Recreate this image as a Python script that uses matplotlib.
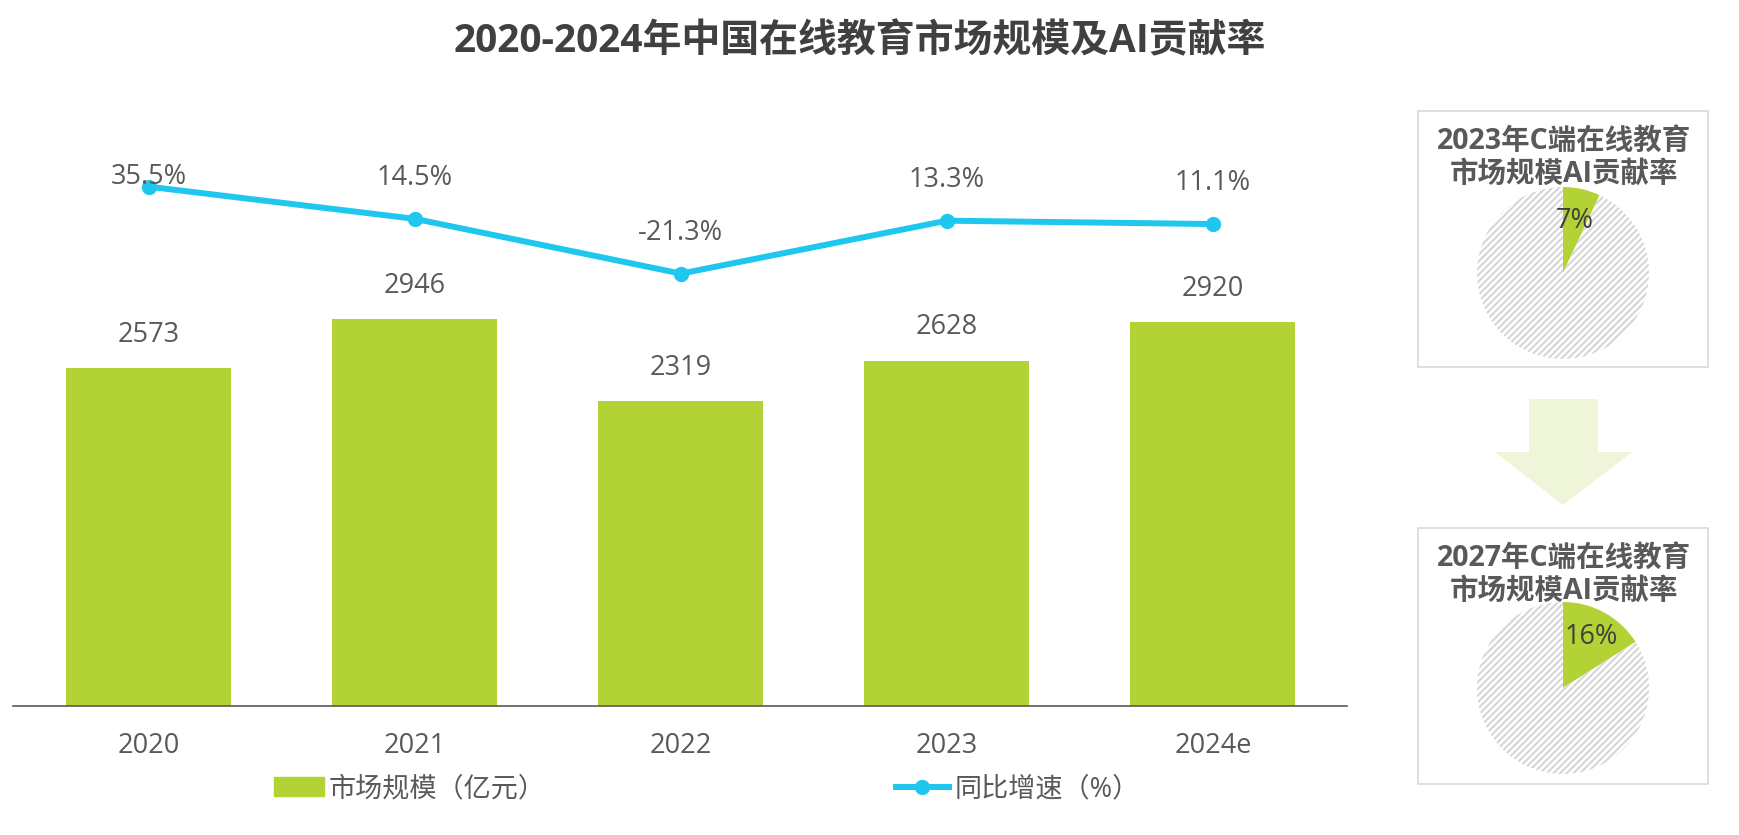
import matplotlib
matplotlib.use('Agg')
import matplotlib.pyplot as plt
from matplotlib.patches import Rectangle, Polygon, Patch
from matplotlib.lines import Line2D

plt.rcParams['font.family'] = ['Open Sans', 'Noto Sans CJK SC', 'DejaVu Sans']
plt.rcParams['hatch.linewidth'] = 1.5

# dados
anos = ['2020', '2021', '2022', '2023', '2024e']
mercado = [2573, 2946, 2319, 2628, 2920]
crescimento = [35.5, 14.5, -21.3, 13.3, 11.1]
pie_titulos = ['2023年C端在线教育\n市场规模AI贡献率', '2027年C端在线教育\n市场规模AI贡献率']
pie_ai = [7, 16]

verde = '#B2D235'
azul = '#1FC7EF'
cinza = '#595959'
fs = 19.5

W, H = 1739, 835
fig = plt.figure(figsize=(W / 100, H / 100), dpi=100)


def fx(px):
    return px / W


def fy(py):
    return 1 - py / H


# grafico principal
ax = fig.add_axes([fx(13), fy(706), fx(1347) - fx(13), fy(100) - fy(706)])
x = list(range(len(anos)))
ax.bar(x, mercado, width=0.62, color=verde, label='市场规模（亿元）')
ax.set_xlim(-0.511, 4.504)
ax.set_ylim(0, 4612)
for s in ['top', 'right', 'left']:
    ax.spines[s].set_visible(False)
ax.spines['bottom'].set_color('#595959')
ax.spines['bottom'].set_linewidth(1.2)
ax.set_yticks([])
ax.set_xticks(x, anos)
ax.tick_params(axis='x', length=0, pad=19, labelsize=fs, labelcolor=cinza)
for i, v in enumerate(mercado):
    ax.annotate(str(v), (i, v), xytext=(0, 24), textcoords='offset points',
                ha='center', va='center', fontsize=fs, color=cinza)

ax2 = ax.twinx()
ax2.plot(x, crescimento, color=azul, lw=4.3, marker='o', ms=10, label='同比增速（%）')
ax2.set_ylim(-304, 92.2)
ax2.set_yticks([])
for s in ax2.spines.values():
    s.set_visible(False)
for i, v in enumerate(crescimento):
    off = 7 if i == 0 else 29.5
    ax2.annotate(f'{v}%', (i, v), xytext=(0, off), textcoords='offset points',
                 ha='center', va='center', fontsize=fs, color=cinza)

# legendas
fig.legend(handles=[Patch(color=verde)], labels=['市场规模（亿元）'],
           loc='center left', bbox_to_anchor=(fx(274), fy(789)),
           frameon=False, borderpad=0, borderaxespad=0, fontsize=19.5,
           handlelength=1.85, handleheight=0.7, handletextpad=0.15,
           labelcolor=cinza)
fig.legend(handles=[Line2D([], [], color=azul, lw=4.3, marker='o', ms=10)],
           labels=['同比增速（%）'],
           loc='center left', bbox_to_anchor=(fx(896), fy(789)),
           frameon=False, borderpad=0, borderaxespad=0, fontsize=19.5,
           handlelength=1.95, handletextpad=0.2, labelcolor=cinza)

# titulo
fig.text(fx(860), fy(42), '2020-2024年中国在线教育市场规模及AI贡献率',
         ha='center', va='center', fontsize=28, fontweight='bold', color='#404040')

# paineis de pizza
caixas = [(111, 367), (528, 784)]
centros = [273, 688]
for k in range(2):
    y0, y1 = caixas[k]
    fig.add_artist(Rectangle((fx(1418), fy(y1)), fx(1708) - fx(1418), fy(y0) - fy(y1),
                             transform=fig.transFigure, facecolor='none',
                             edgecolor='#D9D9D9', lw=1.2))
    fig.text(fx(1564), fy(y0 + 47), pie_titulos[k], ha='center', va='center',
             fontsize=20.5, fontweight='bold', color=cinza, linespacing=1.2)
    r = 86
    cy = centros[k]
    pax = fig.add_axes([fx(1563 - r), fy(cy + r), fx(2 * r), fy(cy - r) - fy(cy + r)])
    wedges, textos, autotextos = pax.pie(
        [pie_ai[k], 100 - pie_ai[k]], startangle=90, counterclock=False,
        colors=[verde, 'white'], autopct=lambda p: f'{p:.0f}%' if p < 50 else '',
        pctdistance=0.68 if k == 1 else 0.62,
        textprops={'fontsize': 19.5, 'color': '#404040'})
    wedges[0].set_linewidth(0)
    wedges[1].set_hatch('/////')
    wedges[1].set_edgecolor('#D6D6D6')
    wedges[1].set_linewidth(0)
    pax.set_xlim(-1, 1)
    pax.set_ylim(-1, 1)

# seta
seta = [(1529, 399), (1598, 399), (1598, 452), (1632, 452), (1563, 505),
        (1495, 452), (1529, 452)]
fig.add_artist(Polygon([(fx(a), fy(b)) for a, b in seta], closed=True,
                       transform=fig.transFigure, facecolor='#EFF5D8', edgecolor='none'))

fig.savefig('out.png', dpi=100)
